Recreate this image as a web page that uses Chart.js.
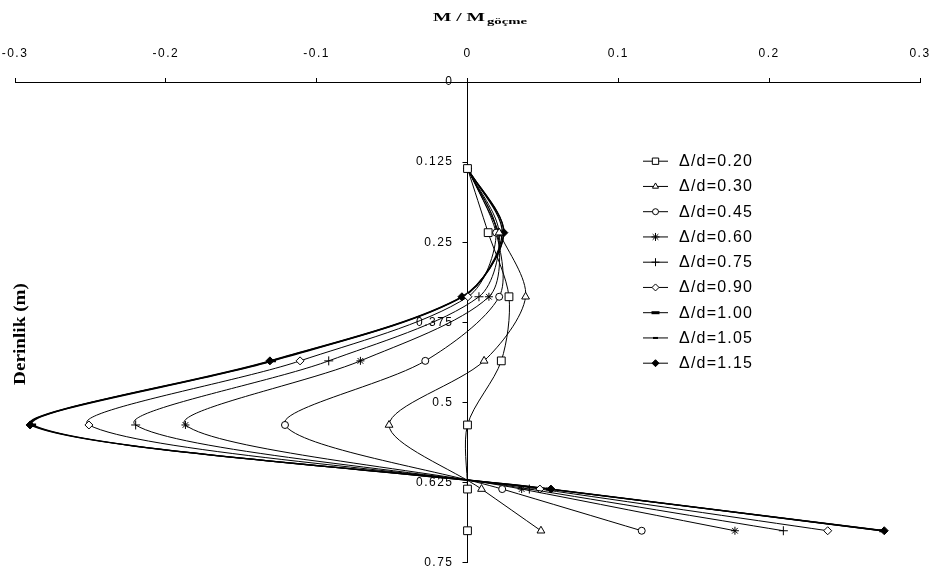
<!DOCTYPE html>
<html>
<head>
<meta charset="utf-8">
<script src="https://cdn.jsdelivr.net/npm/chart.js@4.4.1/dist/chart.umd.min.js"></script>
<style>
  html, body { margin: 0; padding: 0; background: #fff; }
  #wrap { width: 932px; height: 579px; }
</style>
</head>
<body>
<div id="wrap"><canvas id="c" width="932" height="579"></canvas></div>
<script>
// Derinlik (m) - ölçüm noktaları
const depths = [0.135, 0.235, 0.335, 0.435, 0.535, 0.635, 0.70];

// M / M göçme, her Δ/d için
const m020 = [0, 0.0137, 0.0275, 0.0224, 0, 0, 0];
const m030 = [0, 0.021, 0.0385, 0.011, -0.052, 0.0093, 0.0487];
const m045 = [0, 0.019, 0.021, -0.028, -0.121, 0.023, 0.1155];
const m060 = [0, 0.020, 0.0142, -0.071, -0.187, 0.0359, 0.1773];
const m075 = [0, 0.021, 0.0076, -0.092, -0.220, 0.041, 0.2094];
const m090 = [0, 0.019, 0.0003, -0.111, -0.251, 0.048, 0.2388];
const m100 = [0, 0.023, -0.003, -0.129, -0.288, 0.054, 0.275];
const m105 = [0, 0.024, -0.0033, -0.130, -0.289, 0.0545, 0.2755];
const m115 = [0, 0.0241, -0.0037, -0.131, -0.290, 0.0553, 0.2763];

const seriesLabels = ['Δ/d=0.20', 'Δ/d=0.30', 'Δ/d=0.45', 'Δ/d=0.60', 'Δ/d=0.75',
  'Δ/d=0.90', 'Δ/d=1.00', 'Δ/d=1.05', 'Δ/d=1.15'];
const seriesValues = [m020, m030, m045, m060, m075, m090, m100, m105, m115];

const xTicks = [-0.3, -0.2, -0.1, 0, 0.1, 0.2, 0.3];
const yTicks = [0, 0.125, 0.25, 0.375, 0.5, 0.625, 0.75];

// işaretçi stilleri (grafik / lejant)
const markers = [
  { style: 'rect', r: 5.5, lr: 4.5, fill: '#fff' },
  { style: 'triangle', r: 4.5, lr: 3.5, fill: '#fff' },
  { style: 'circle', r: 3.5, lr: 3, fill: '#fff' },
  { style: 'star', r: 4, lr: 4, fill: '#fff' },
  { style: 'cross', r: 4.5, lr: 4, fill: '#fff' },
  { style: 'rectRot', r: 4, lr: 3.5, fill: '#fff' },
  { style: 'line', r: 3, lr: 4, fill: '#000', bw: 3 },
  { style: 'line', r: 2, lr: 2.5, fill: '#000', bw: 2 },
  { style: 'rectRot', r: 4, lr: 3.5, fill: '#000' },
];

const datasets = seriesValues.map((vals, i) => ({
  label: seriesLabels[i],
  data: depths.map((d, k) => ({ x: vals[k], y: d })),
  showLine: true,
  borderColor: '#000',
  borderWidth: i >= 6 ? 1.3 : 1,
  tension: 0.3,
  pointStyle: markers[i].style,
  pointRadius: markers[i].r,
  pointBackgroundColor: markers[i].fill,
  pointBorderColor: '#000',
  pointBorderWidth: markers[i].bw || 1,
}));

// tick yazıları biraz aralıklı
const spacing = {
  id: 'spacing',
  beforeDraw(chart) { chart.ctx.letterSpacing = '1.5px'; },
};

// y ekseni x=0 çizgisinde dursun (etiketler için solda yer bırak)
const yAtZero = {
  id: 'yAtZero',
  afterLayout(chart) {
    const y = chart.scales.y;
    const px = chart.scales.x.getPixelForValue(0);
    y.left = px - 90;
    y.right = px;
    y.width = 90;
  },
};

function drawMarker(ctx, m, x, y) {
  ctx.fillStyle = m.fill;
  ctx.strokeStyle = '#000';
  ctx.lineWidth = m.bw || 1;
  if (Chart.helpers && Chart.helpers.drawPoint) {
    Chart.helpers.drawPoint(ctx, { pointStyle: m.style, radius: m.lr, rotation: 0, borderWidth: m.bw || 1 }, x, y);
  } else {
    ctx.fillRect(x - m.lr, y - m.lr, m.lr * 2, m.lr * 2);
    ctx.strokeRect(x - m.lr, y - m.lr, m.lr * 2, m.lr * 2);
  }
}

const legendBox = {
  id: 'legendBox',
  afterDraw(chart) {
    const ctx = chart.ctx;
    ctx.save();
    ctx.letterSpacing = '1.2px';
    ctx.font = '16px "Liberation Sans", Arial, sans-serif';
    ctx.textBaseline = 'middle';
    ctx.textAlign = 'left';
    seriesLabels.forEach((lab, i) => {
      const y = 160.7 + i * 25.25;
      ctx.strokeStyle = '#000';
      ctx.lineWidth = 1;
      ctx.beginPath();
      ctx.moveTo(643, y + 0.5);
      ctx.lineTo(668, y + 0.5);
      ctx.stroke();
      drawMarker(ctx, markers[i], 655.5, y + 0.5);
      ctx.fillStyle = '#000';
      ctx.fillText(lab, 679, y + 1);
    });
    ctx.restore();
  },
};

const axisTitles = {
  id: 'axisTitles',
  afterDraw(chart) {
    const ctx = chart.ctx;
    ctx.save();
    ctx.letterSpacing = '0px';
    ctx.fillStyle = '#000';
    ctx.textBaseline = 'alphabetic';
    ctx.textAlign = 'left';
    // üst eksen başlığı
    ctx.font = 'bold 13px "Liberation Serif", "Times New Roman", serif';
    const main = 'M / M';
    const mw = ctx.measureText(main).width;
    ctx.save();
    ctx.translate(433, 21);
    ctx.scale(52 / mw, 1);
    ctx.fillText(main, 0, 0);
    ctx.restore();
    ctx.font = 'bold 9px "Liberation Serif", "Times New Roman", serif';
    const sub = 'göçme';
    const sw = ctx.measureText(sub).width;
    ctx.save();
    ctx.translate(487, 23.5);
    ctx.scale(40 / sw, 1);
    ctx.fillText(sub, 0, 0);
    ctx.restore();
    // sol eksen başlığı
    ctx.font = 'bold 17px "Liberation Serif", "Times New Roman", serif';
    const yt = 'Derinlik (m)';
    const yw = ctx.measureText(yt).width;
    ctx.save();
    ctx.translate(25, 334);
    ctx.rotate(-Math.PI / 2);
    ctx.scale(102 / yw, 1);
    ctx.textAlign = 'center';
    ctx.fillText(yt, 0, 0);
    ctx.restore();
    ctx.restore();
  },
};

const tickFont = { family: '"Liberation Sans", Arial, sans-serif', size: 12 };

new Chart(document.getElementById('c'), {
  type: 'scatter',
  data: { datasets },
  plugins: [spacing, yAtZero, legendBox, axisTitles],
  options: {
    responsive: false,
    animation: false,
    events: [],
    layout: { padding: { left: 15, right: 12, top: 0, bottom: 14.5 } },
    plugins: { legend: { display: false }, tooltip: { enabled: false } },
    scales: {
      x: {
        type: 'linear',
        position: 'top',
        min: -0.3,
        max: 0.3,
        afterBuildTicks: (s) => { s.ticks = xTicks.map((v) => ({ value: v })); },
        afterFit: (s) => { s.height = 82; s.paddingLeft = 0; s.paddingRight = 0; },
        grid: { drawOnChartArea: false, drawTicks: true, tickLength: 4, color: '#000' },
        border: { color: '#000', width: 1 },
        ticks: { color: '#000', font: tickFont, padding: 17, maxRotation: 0, callback: (v) => String(v) },
      },
      y: {
        type: 'linear',
        position: 'left',
        reverse: true,
        min: 0,
        max: 0.75,
        afterBuildTicks: (s) => { s.ticks = yTicks.map((v) => ({ value: v })); },
        afterFit: (s) => { s.width = 0; },
        grid: { drawOnChartArea: false, drawTicks: true, tickLength: 5, color: '#000' },
        border: { color: '#000', width: 1 },
        ticks: { color: '#000', font: tickFont, padding: 9, callback: (v) => String(v) },
      },
    },
  },
});
</script>
</body>
</html>
